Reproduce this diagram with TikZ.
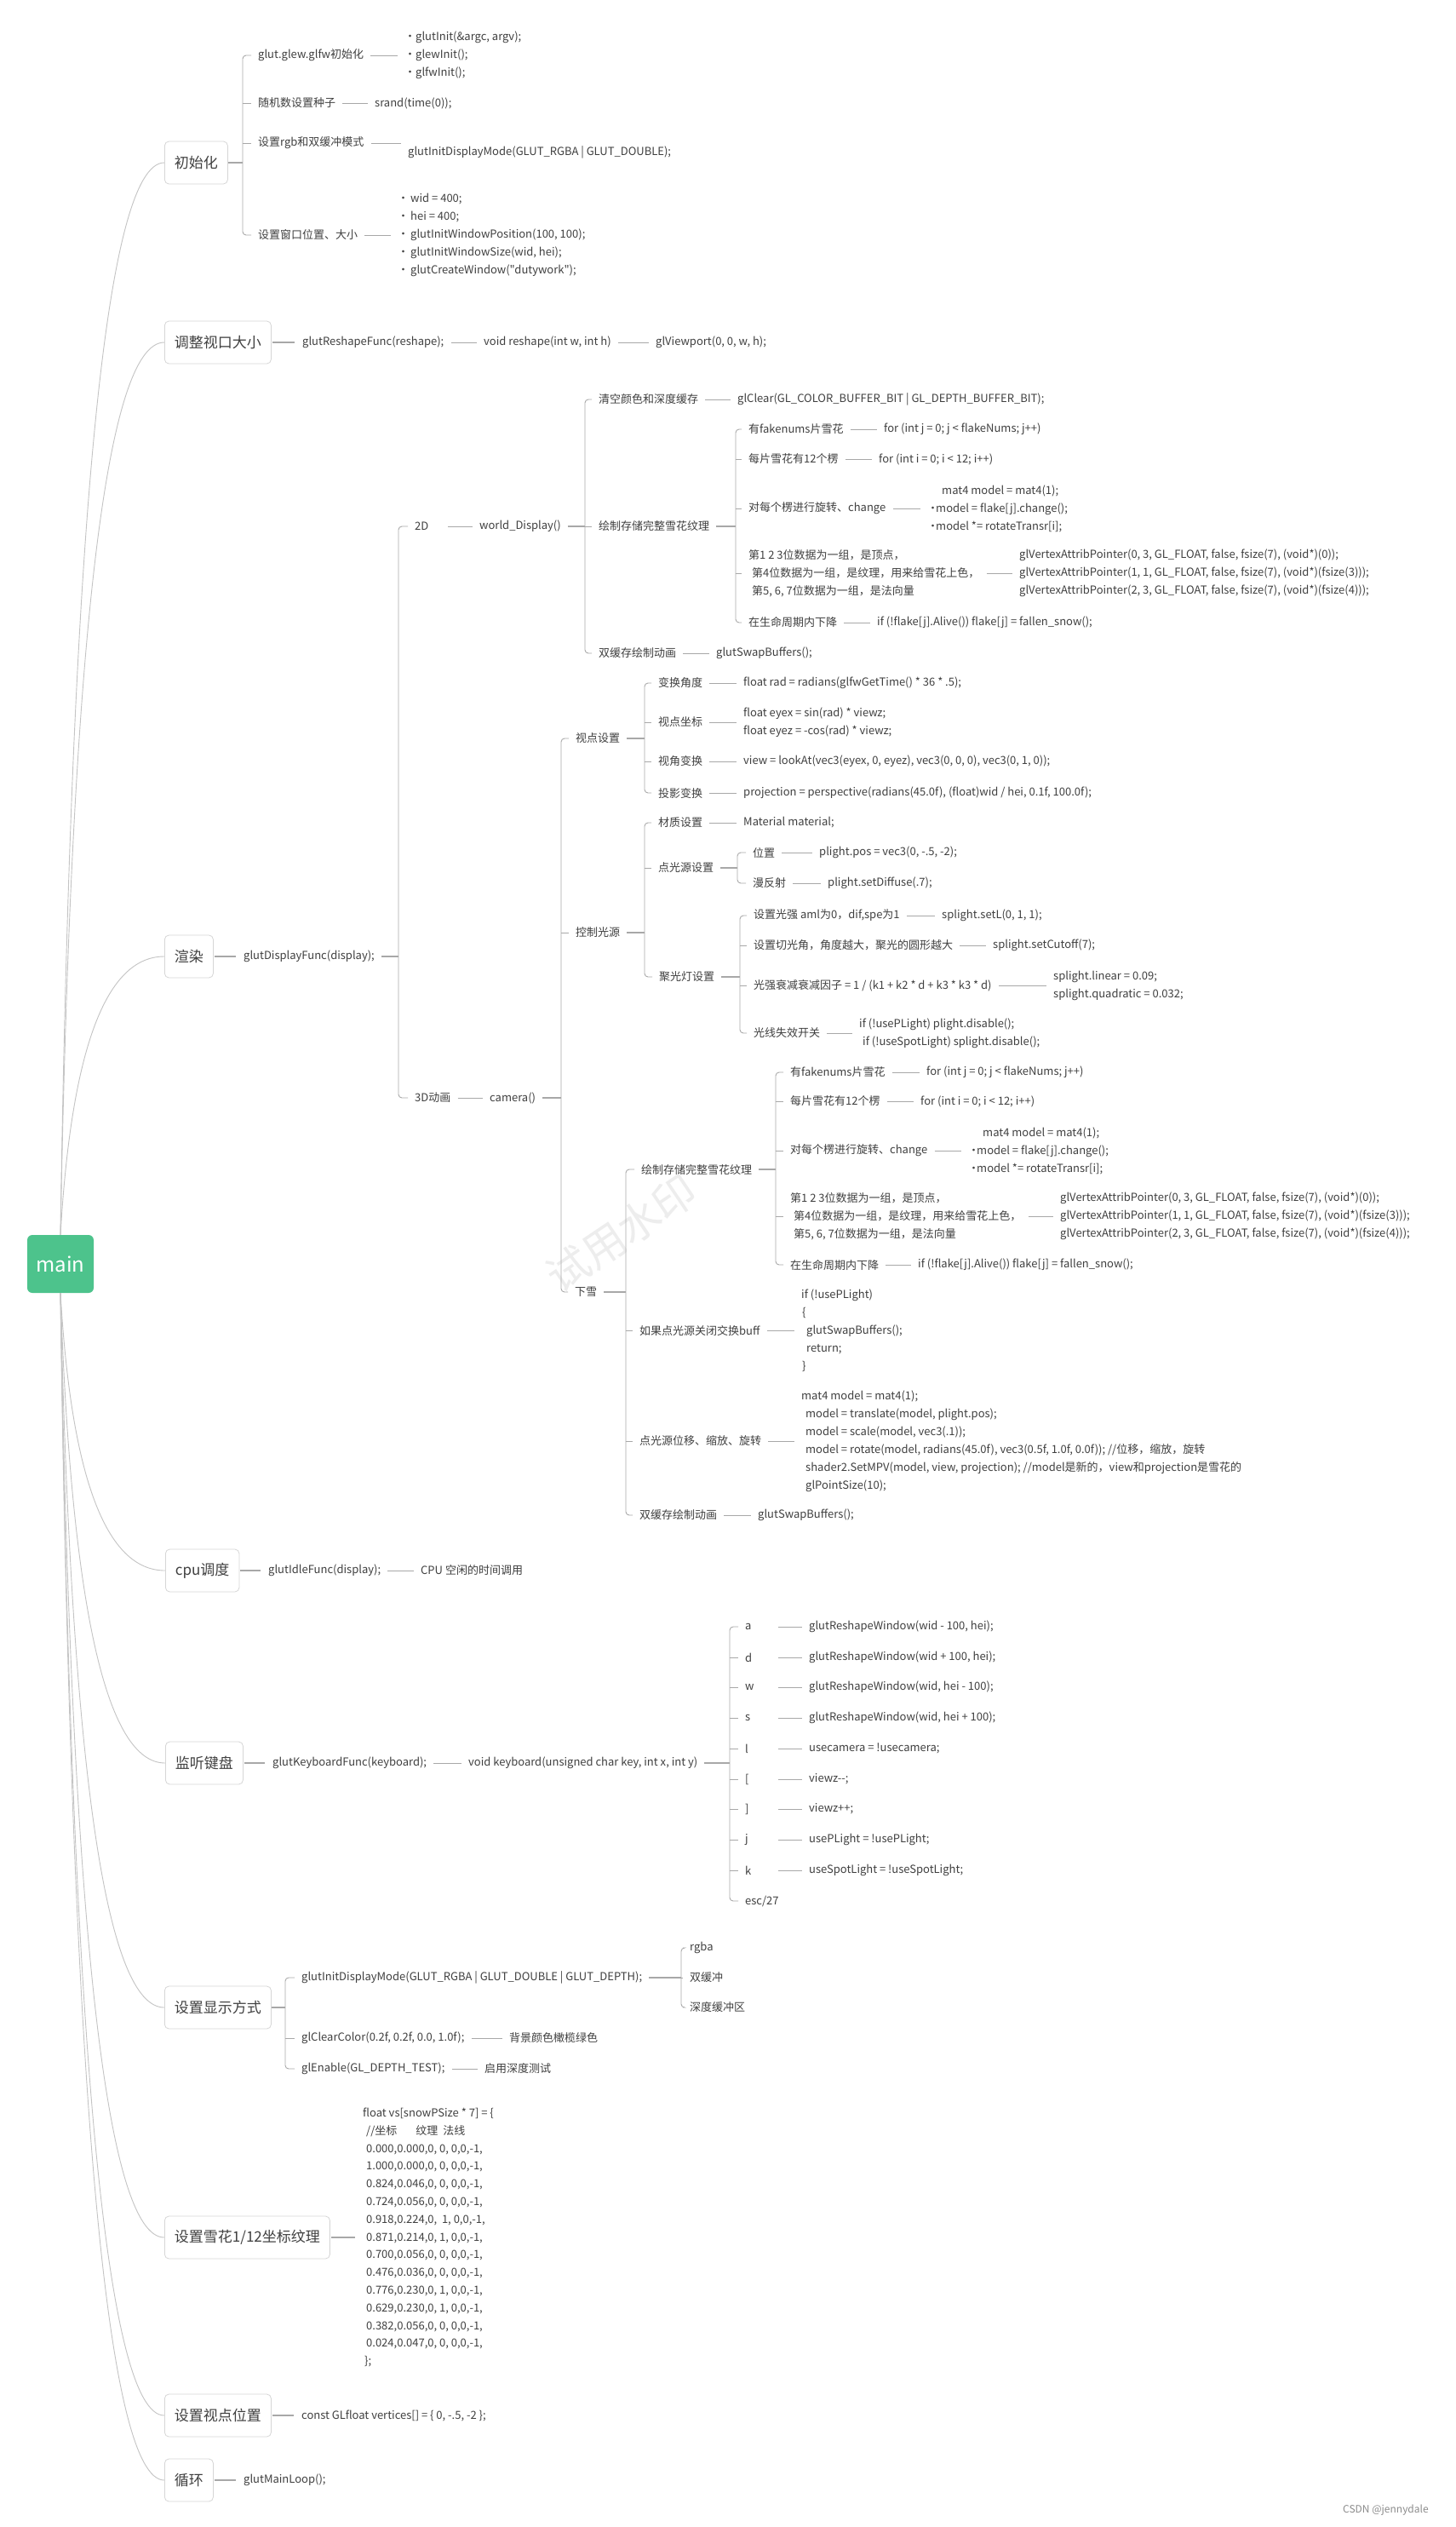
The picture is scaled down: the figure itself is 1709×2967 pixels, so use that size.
\documentclass[tikz,border=0pt]{standalone}
\usepackage{fontspec}
\setmainfont{Noto Sans CJK SC}[Ligatures=TeXOff]
\usetikzlibrary{calc}

\definecolor{inkgray}{HTML}{404040}
\definecolor{wiregray}{HTML}{A8A8A8}
\definecolor{vinegray}{HTML}{C4C4C4}
\definecolor{framegray}{HTML}{D6D6D6}
\definecolor{rootgreen}{HTML}{4DC38C}

\newcommand{\bul}[1][10pt]{\makebox[#1][l]{•}}
% bracket from the first to the last child, through the fork
\newcommand{\fork}[3]{\draw[brk] ([xshift=-8pt]#2.west) -| (#1 |- #3.west) -- ([xshift=-8pt]#3.west);}
\newcommand{\tick}[2]{\draw[brk] (#1 |- #2.west) -- ([xshift=-8pt]#2.west);}
\newcommand{\hook}[2]{\draw[link] (#1.east) -- (#1.east -| #2.west);}
\newcommand{\twig}[2]{\draw[bough] (#1) .. controls ($(#1)!0.667!(mc |- #2.west)$) and ($(#2.west)!0.667!(mc |- #2.west)$) .. (#2.west);}

\tikzset{
  txt/.style={anchor=west, inner sep=0pt, text=inkgray, font=\fontsize{13}{21}\selectfont},
  snippet/.style={txt, align=left},
  keytxt/.style={txt, text width=31pt},
  topic/.style={anchor=west, draw=framegray, line width=0.8pt, rounded corners=5pt, fill=white, text=inkgray, font=\fontsize{17}{20}\selectfont, minimum height=50pt, inner xsep=11.5pt},
  root/.style={fill=rootgreen, rounded corners=6pt, text=white, font=\fontsize{24}{24}\selectfont, minimum width=78pt, minimum height=68pt},
  bough/.style={draw=vinegray, line width=0.9pt},
  stub/.style={draw=wiregray, line width=1.8pt, shorten <=8pt},
  brk/.style={draw=wiregray, line width=0.9pt, rounded corners=4pt},
  link/.style={draw=wiregray, line width=1pt, shorten <=8pt, shorten >=8pt},
  lead/.style={link, line width=1.5pt, shorten <=1pt, shorten >=9pt},
}

\begin{document}
\begin{tikzpicture}[x=1pt, y=-1pt]
\useasboundingbox (0,0) rectangle (1709,2967);
\fill[white] (0,0) rectangle (1709,2967);

% watermark
\node[rotate=34, text=black!7, font=\fontsize{50}{50}\selectfont] (mark) at (730,1448) {试用水印};

% root and topics
\node[root] (root) at (71,1484) {main};
\coordinate (mc) at (90,1484);
\node[topic] (tInit) at (193,191) {初始化};
\node[topic] (tView) at (193,402) {调整视口大小};
\node[topic] (tRender) at (193,1123) {渲染};
\node[topic] (tCpu) at (194,1844) {cpu调度};
\node[topic] (tKey) at (194,2070) {监听键盘};
\node[topic] (tDisp) at (193,2357) {设置显示方式};
\node[topic] (tSnow) at (193,2627) {设置雪花1/12坐标纹理};
\node[topic] (tEye) at (193,2836) {设置视点位置};
\node[topic] (tLoop) at (193,2912) {循环};

\twig{root.north}{tInit}
\twig{root.north}{tView}
\twig{root.north}{tRender}
\twig{root.south}{tCpu}
\twig{root.south}{tKey}
\twig{root.south}{tDisp}
\twig{root.south}{tSnow}
\twig{root.south}{tEye}
\twig{root.south}{tLoop}

% init
\coordinate (fInit) at (285,191);
\node[txt] (iGlut) at (303,65) {glut.glew.glfw初始化};
\node[txt] (iRand) at (303,121) {随机数设置种子};
\node[txt] (iRgb) at (303,168) {设置rgb和双缓冲模式};
\node[txt] (iWin) at (303,276) {设置窗口位置、大小};
\node[snippet] (iGlutV) at (475,65) {\bul[13pt]glutInit(\&argc, argv);\\ \bul[13pt]glewInit();\\ \bul[13pt]glfwInit();};
\node[txt] (iRandV) at (440,121) {srand(time(0));};
\node[txt] (iRgbV) at (479,179) {glutInitDisplayMode(GLUT\_RGBA | GLUT\_DOUBLE);};
\node[snippet] (iWinV) at (467,276) {\bul[15pt]wid = 400;\\ \bul[15pt]hei = 400;\\ \bul[15pt]glutInitWindowPosition(100, 100);\\ \bul[15pt]glutInitWindowSize(wid, hei);\\ \bul[15pt]glutCreateWindow("dutywork");};
\draw[stub, shorten <=0pt] (tInit.east) -- (fInit);
\fork{fInit}{iGlut}{iWin}
\tick{fInit}{iRand}
\tick{fInit}{iRgb}
\hook{iGlut}{iGlutV}
\hook{iRand}{iRandV}
\hook{iRgb}{iRgbV}
\hook{iWin}{iWinV}

% viewport
\node[txt] (vFunc) at (355,402) {glutReshapeFunc(reshape);};
\node[txt] (vDef) at (568,402) {void reshape(int w, int h)};
\node[txt] (vPort) at (770,402) {glViewport(0, 0, w, h);};
\draw[lead] (tView.east) -- (tView.east -| vFunc.west);
\hook{vFunc}{vDef}
\hook{vDef}{vPort}

% render
\node[txt] (rFunc) at (286,1123) {glutDisplayFunc(display);};
\coordinate (fRender) at (468,1123);
\node[keytxt] (r2d) at (487,618) {2D};
\node[txt] (r3d) at (487,1289) {3D动画};
\node[txt] (r2dFn) at (563,618) {world\_Display()};
\node[txt] (r3dFn) at (575,1289) {camera()};
\draw[lead] (tRender.east) -- (tRender.east -| rFunc.west);
\draw[stub] (rFunc.east) -- (fRender);
\fork{fRender}{r2d}{r3d}
\hook{r2d}{r2dFn}
\hook{r3d}{r3dFn}

% 2D
\coordinate (f2d) at (687,618);
\node[txt] (dClear) at (703,469) {清空颜色和深度缓存};
\node[txt] (dClearV) at (866,469) {glClear(GL\_COLOR\_BUFFER\_BIT | GL\_DEPTH\_BUFFER\_BIT);};
\node[txt] (dDraw) at (703,618) {绘制存储完整雪花纹理};
\node[txt] (dSwap) at (703,767) {双缓存绘制动画};
\node[txt] (dSwapV) at (841,767) {glutSwapBuffers();};
\draw[stub] (r2dFn.east) -- (f2d);
\fork{f2d}{dClear}{dSwap}
\tick{f2d}{dDraw}
\hook{dClear}{dClearV}
\hook{dSwap}{dSwapV}

\coordinate (fDraw) at (864,618);
\node[txt] (dNum) at (879,504) {有fakenums片雪花};
\node[txt] (dNumV) at (1038,504) {for (int j = 0; j < flakeNums; j++)};
\node[txt] (dTwelve) at (879,539) {每片雪花有12个楞};
\node[txt] (dTwelveV) at (1032,539) {for (int i = 0; i < 12; i++)};
\node[txt] (dRot) at (879,597) {对每个楞进行旋转、change};
\node[snippet] (dRotV) at (1089,597) {\hspace{17pt}mat4 model = mat4(1);\\ \bul model = flake[j].change();\\ \bul model *= rotateTransr[i];};
\node[snippet] (dAttr) at (879,673) {第1 2 3位数据为一组，是顶点，\\ \hspace{4pt}第4位数据为一组，是纹理，用来给雪花上色，\\ \hspace{4pt}第5, 6, 7位数据为一组，是法向量};
\node[snippet] (dAttrV) at (1197,673) {glVertexAttribPointer(0, 3, GL\_FLOAT, false, fsize(7), (void*)(0));\\ glVertexAttribPointer(1, 1, GL\_FLOAT, false, fsize(7), (void*)(fsize(3)));\\ glVertexAttribPointer(2, 3, GL\_FLOAT, false, fsize(7), (void*)(fsize(4)));};
\node[txt] (dFall) at (879,731) {在生命周期内下降};
\node[txt] (dFallV) at (1030,731) {if (!flake[j].Alive()) flake[j] = fallen\_snow();};
\draw[stub] (dDraw.east) -- (fDraw);
\fork{fDraw}{dNum}{dFall}
\tick{fDraw}{dTwelve}
\tick{fDraw}{dRot}
\tick{fDraw}{dAttr}
\hook{dNum}{dNumV}
\hook{dTwelve}{dTwelveV}
\hook{dRot}{dRotV}
\hook{dAttr}{dAttrV}
\hook{dFall}{dFallV}

% 3D
\coordinate (fCam) at (659,1289);
\node[txt] (cEye) at (676,867) {视点设置};
\node[txt] (cLight) at (676,1095) {控制光源};
\node[txt] (cSnow) at (675,1517) {下雪};
\draw[stub] (r3dFn.east) -- (fCam);
\fork{fCam}{cEye}{cSnow}
\tick{fCam}{cLight}

\coordinate (fEye) at (757,867);
\node[txt] (eAng) at (773,802) {变换角度};
\node[txt] (eAngV) at (873,802) {float rad = radians(glfwGetTime() * 36 * .5);};
\node[txt] (ePos) at (773,848) {视点坐标};
\node[snippet] (ePosV) at (873,848) {float eyex = sin(rad) * viewz;\\ float eyez = -cos(rad) * viewz;};
\node[txt] (eLook) at (773,894) {视角变换};
\node[txt] (eLookV) at (873,894) {view = lookAt(vec3(eyex, 0, eyez), vec3(0, 0, 0), vec3(0, 1, 0));};
\node[txt] (eProj) at (773,931) {投影变换};
\node[txt] (eProjV) at (873,931) {projection = perspective(radians(45.0f), (float)wid / hei, 0.1f, 100.0f);};
\draw[stub] (cEye.east) -- (fEye);
\fork{fEye}{eAng}{eProj}
\tick{fEye}{ePos}
\tick{fEye}{eLook}
\hook{eAng}{eAngV}
\hook{ePos}{ePosV}
\hook{eLook}{eLookV}
\hook{eProj}{eProjV}

\coordinate (fLight) at (757,1095);
\node[txt] (lMat) at (773,966) {材质设置};
\node[txt] (lMatV) at (873,966) {Material material;};
\node[txt] (lPt) at (773,1019) {点光源设置};
\node[txt] (lSpot) at (774,1147) {聚光灯设置};
\draw[stub] (cLight.east) -- (fLight);
\fork{fLight}{lMat}{lSpot}
\tick{fLight}{lPt}
\hook{lMat}{lMatV}

\coordinate (fPt) at (866,1019);
\node[txt] (pPos) at (884,1001) {位置};
\node[txt] (pPosV) at (962,1001) {plight.pos = vec3(0, -.5, -2);};
\node[txt] (pDif) at (884,1037) {漫反射};
\node[txt] (pDifV) at (972,1037) {plight.setDiffuse(.7);};
\draw[stub] (lPt.east) -- (fPt);
\fork{fPt}{pPos}{pDif}
\hook{pPos}{pPosV}
\hook{pDif}{pDifV}

\coordinate (fSpot) at (869,1147);
\node[txt] (sL) at (885,1075) {设置光强 aml为0，dif,spe为1};
\node[txt] (sLV) at (1106,1075) {splight.setL(0, 1, 1);};
\node[txt] (sCut) at (885,1110) {设置切光角，角度越大，聚光的圆形越大};
\node[txt] (sCutV) at (1166,1110) {splight.setCutoff(7);};
\node[txt] (sAtt) at (885,1157) {光强衰减衰减因子 = 1 / (k1 + k2 * d + k3 * k3 * d)};
\node[snippet] (sAttV) at (1237,1157) {splight.linear = 0.09;\\ splight.quadratic = 0.032;};
\node[txt] (sOff) at (885,1213) {光线失效开关};
\node[snippet] (sOffV) at (1009,1213) {if (!usePLight) plight.disable();\\ \hspace{4pt}if (!useSpotLight) splight.disable();};
\draw[stub] (lSpot.east) -- (fSpot);
\fork{fSpot}{sL}{sOff}
\tick{fSpot}{sCut}
\tick{fSpot}{sAtt}
\hook{sL}{sLV}
\hook{sCut}{sCutV}
\hook{sAtt}{sAttV}
\hook{sOff}{sOffV}

% snow
\coordinate (fSnow) at (735,1517);
\node[txt] (wDraw) at (753,1373) {绘制存储完整雪花纹理};
\node[txt] (wBuf) at (751,1562) {如果点光源关闭交换buff};
\node[snippet] (wBufV) at (941,1562) {if (!usePLight)\\ \hspace{1pt}\{\\ \hspace{6pt}glutSwapBuffers();\\ \hspace{6pt}return;\\ \hspace{1pt}\}};
\node[txt] (wMove) at (751,1692) {点光源位移、缩放、旋转};
\node[snippet] (wMoveV) at (941,1692) {mat4 model = mat4(1);\\ \hspace{5pt}model = translate(model, plight.pos);\\ \hspace{5pt}model = scale(model, vec3(.1));\\ \hspace{5pt}model = rotate(model, radians(45.0f), vec3(0.5f, 1.0f, 0.0f)); //位移，缩放，旋转\\ \hspace{5pt}shader2.SetMPV(model, view, projection); //model是新的，view和projection是雪花的\\ \hspace{5pt}glPointSize(10);};
\node[txt] (wSwap) at (751,1779) {双缓存绘制动画};
\node[txt] (wSwapV) at (890,1779) {glutSwapBuffers();};
\draw[stub] (cSnow.east) -- (fSnow);
\fork{fSnow}{wDraw}{wSwap}
\tick{fSnow}{wBuf}
\tick{fSnow}{wMove}
\hook{wBuf}{wBufV}
\hook{wMove}{wMoveV}
\hook{wSwap}{wSwapV}

\coordinate (fWDraw) at (911,1373);
\node[txt] (wNum) at (928,1259) {有fakenums片雪花};
\node[txt] (wNumV) at (1088,1259) {for (int j = 0; j < flakeNums; j++)};
\node[txt] (wTwelve) at (928,1293) {每片雪花有12个楞};
\node[txt] (wTwelveV) at (1081,1293) {for (int i = 0; i < 12; i++)};
\node[txt] (wRot) at (928,1351) {对每个楞进行旋转、change};
\node[snippet] (wRotV) at (1137,1351) {\hspace{17pt}mat4 model = mat4(1);\\ \bul model = flake[j].change();\\ \bul model *= rotateTransr[i];};
\node[snippet] (wAttr) at (928,1428) {第1 2 3位数据为一组，是顶点，\\ \hspace{4pt}第4位数据为一组，是纹理，用来给雪花上色，\\ \hspace{4pt}第5, 6, 7位数据为一组，是法向量};
\node[snippet] (wAttrV) at (1245,1428) {glVertexAttribPointer(0, 3, GL\_FLOAT, false, fsize(7), (void*)(0));\\ glVertexAttribPointer(1, 1, GL\_FLOAT, false, fsize(7), (void*)(fsize(3)));\\ glVertexAttribPointer(2, 3, GL\_FLOAT, false, fsize(7), (void*)(fsize(4)));};
\node[txt] (wFall) at (928,1485) {在生命周期内下降};
\node[txt] (wFallV) at (1078,1485) {if (!flake[j].Alive()) flake[j] = fallen\_snow();};
\draw[stub] (wDraw.east) -- (fWDraw);
\fork{fWDraw}{wNum}{wFall}
\tick{fWDraw}{wTwelve}
\tick{fWDraw}{wRot}
\tick{fWDraw}{wAttr}
\hook{wNum}{wNumV}
\hook{wTwelve}{wTwelveV}
\hook{wRot}{wRotV}
\hook{wAttr}{wAttrV}
\hook{wFall}{wFallV}

% cpu
\node[txt] (uFunc) at (315,1844) {glutIdleFunc(display);};
\node[txt] (uNote) at (494,1844) {CPU 空闲的时间调用};
\draw[lead] (tCpu.east) -- (tCpu.east -| uFunc.west);
\hook{uFunc}{uNote}

% keyboard
\node[txt] (kFunc) at (320,2070) {glutKeyboardFunc(keyboard);};
\node[txt] (kDef) at (550,2070) {void keyboard(unsigned char key, int x, int y)};
\coordinate (fKey) at (857,2070);
\node[keytxt] (ka) at (875,1910) {a};
\node[keytxt] (kd) at (875,1946) {d};
\node[keytxt] (kw) at (875,1981) {w};
\node[keytxt] (ks) at (875,2017) {s};
\node[keytxt] (kl) at (875,2053) {l};
\node[keytxt] (klb) at (875,2089) {[};
\node[keytxt] (krb) at (875,2124) {]};
\node[keytxt] (kj) at (875,2160) {j};
\node[keytxt] (kk) at (875,2196) {k};
\node[txt] (kesc) at (875,2232) {esc/27};
\node[txt] (kaV) at (950,1910) {glutReshapeWindow(wid - 100, hei);};
\node[txt] (kdV) at (950,1946) {glutReshapeWindow(wid + 100, hei);};
\node[txt] (kwV) at (950,1981) {glutReshapeWindow(wid, hei - 100);};
\node[txt] (ksV) at (950,2017) {glutReshapeWindow(wid, hei + 100);};
\node[txt] (klV) at (950,2053) {usecamera = !usecamera;};
\node[txt] (klbV) at (950,2089) {viewz--;};
\node[txt] (krbV) at (950,2124) {viewz++;};
\node[txt] (kjV) at (950,2160) {usePLight = !usePLight;};
\node[txt] (kkV) at (950,2196) {useSpotLight = !useSpotLight;};
\draw[lead] (tKey.east) -- (tKey.east -| kFunc.west);
\hook{kFunc}{kDef}
\draw[stub] (kDef.east) -- (fKey);
\fork{fKey}{ka}{kesc}
\tick{fKey}{kd}
\tick{fKey}{kw}
\tick{fKey}{ks}
\tick{fKey}{kl}
\tick{fKey}{klb}
\tick{fKey}{krb}
\tick{fKey}{kj}
\tick{fKey}{kk}
\hook{ka}{kaV}
\hook{kd}{kdV}
\hook{kw}{kwV}
\hook{ks}{ksV}
\hook{kl}{klV}
\hook{klb}{klbV}
\hook{krb}{krbV}
\hook{kj}{kjV}
\hook{kk}{kkV}

% display mode
\coordinate (fDisp) at (335,2357);
\node[txt] (pMode) at (354,2322) {glutInitDisplayMode(GLUT\_RGBA | GLUT\_DOUBLE | GLUT\_DEPTH);};
\node[txt] (pClear) at (354,2393) {glClearColor(0.2f, 0.2f, 0.0, 1.0f);};
\node[txt] (pClearV) at (598,2393) {背景颜色橄榄绿色};
\node[txt] (pDepth) at (354,2429) {glEnable(GL\_DEPTH\_TEST);};
\node[txt] (pDepthV) at (569,2429) {启用深度测试};
\coordinate (fMode) at (800,2322);
\node[txt] (pRgba) at (810,2287) {rgba};
\node[txt] (pDbl) at (810,2322) {双缓冲};
\node[txt] (pZ) at (810,2357) {深度缓冲区};
\draw[stub, shorten <=0pt] (tDisp.east) -- (fDisp);
\fork{fDisp}{pMode}{pDepth}
\tick{fDisp}{pClear}
\hook{pClear}{pClearV}
\hook{pDepth}{pDepthV}
\draw[stub] (pMode.east) -- (fMode);
\fork{fMode}{pRgba}{pZ}
\tick{fMode}{pDbl}

% snow data
\node[snippet, font=\fontsize{13}{20.8}\selectfont] (aData) at (426,2627) {float vs[snowPSize * 7] = \{\\
\hspace{4pt}//坐标\hspace{22pt}纹理\hspace{6pt}法线\\
\hspace{4pt}0.000,0.000,0, 0, 0,0,-1,\\
\hspace{4pt}1.000,0.000,0, 0, 0,0,-1,\\
\hspace{4pt}0.824,0.046,0, 0, 0,0,-1,\\
\hspace{4pt}0.724,0.056,0, 0, 0,0,-1,\\
\hspace{4pt}0.918,0.224,0,\ \ 1, 0,0,-1,\\
\hspace{4pt}0.871,0.214,0, 1, 0,0,-1,\\
\hspace{4pt}0.700,0.056,0, 0, 0,0,-1,\\
\hspace{4pt}0.476,0.036,0, 0, 0,0,-1,\\
\hspace{4pt}0.776,0.230,0, 1, 0,0,-1,\\
\hspace{4pt}0.629,0.230,0, 1, 0,0,-1,\\
\hspace{4pt}0.382,0.056,0, 0, 0,0,-1,\\
\hspace{4pt}0.024,0.047,0, 0, 0,0,-1,\\
\hspace{2pt}\};};
\draw[lead] (tSnow.east) -- (tSnow.east -| aData.west);

% eye and loop
\node[txt] (yVert) at (354,2836) {const GLfloat vertices[] = \{ 0, -.5, -2 \};};
\node[txt] (oMain) at (286,2912) {glutMainLoop();};
\draw[lead] (tEye.east) -- (tEye.east -| yVert.west);
\draw[lead] (tLoop.east) -- (tLoop.east -| oMain.west);

\node[txt, text=black!45, font=\fontsize{12}{12}\selectfont] (sign) at (1577,2947) {CSDN @jennydale};
\end{tikzpicture}
\end{document}
